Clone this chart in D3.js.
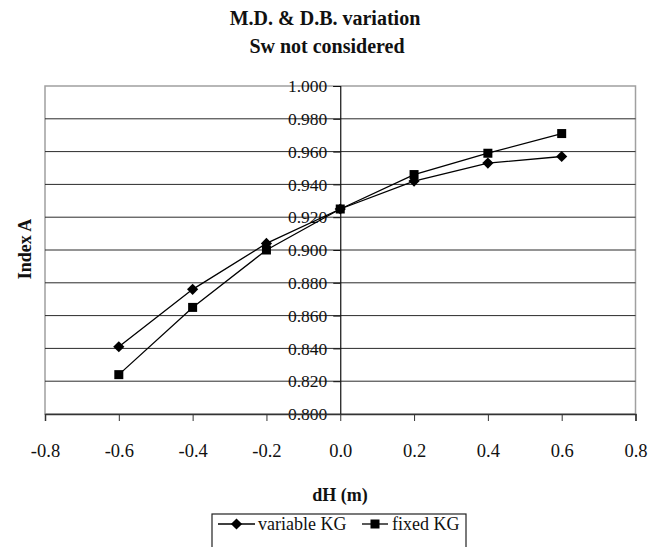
<!DOCTYPE html>
<html><head><meta charset="utf-8">
<script src="https://cdn.jsdelivr.net/npm/d3@7"></script>
<style>body{margin:0;background:#fff}svg{display:block}svg text{font-family:"Liberation Serif","Tinos","Times New Roman",Times,"DejaVu Serif",serif !important}</style>
</head><body>
<svg id="c" width="661" height="547"></svg>
<script>
const xValues = [-0.6, -0.4, -0.2, 0, 0.2, 0.4, 0.6];
const variableKG = [0.841, 0.876, 0.904, 0.925, 0.942, 0.953, 0.957];
const fixedKG = [0.824, 0.865, 0.900, 0.925, 0.946, 0.959, 0.971];
const xTicks = [-0.8, -0.6, -0.4, -0.2, 0, 0.2, 0.4, 0.6, 0.8];
const yTicks = [0.80, 0.82, 0.84, 0.86, 0.88, 0.90, 0.92, 0.94, 0.96, 0.98, 1.00];
const seriesNames = ["variable KG", "fixed KG"];

const FF = '"Liberation Serif", Tinos, "Times New Roman", Times, serif';
const svg = d3.select("#c");
const L = 45, R = 635.5, T = 86, B = 414;
const x = d3.scaleLinear().domain([-0.8, 0.8]).range([L, R]);
const y = d3.scaleLinear().domain([0.8, 1.0]).range([B, T]);
const diamondType = d3.symbolDiamond2 || d3.symbolDiamond;

// plot border
svg.append("rect").attr("x", L).attr("y", T).attr("width", R - L).attr("height", B - T)
  .attr("fill", "none").attr("stroke", "#a0a0a0").attr("stroke-width", 1.5);

// gridlines
svg.append("g").selectAll("line").data(yTicks.slice(1, -1)).join("line")
  .attr("x1", L).attr("x2", R).attr("y1", d => y(d)).attr("y2", d => y(d))
  .attr("stroke", "#2a2a2a").attr("stroke-width", 1);

// y axis at x=0
const yAxis = d3.axisLeft(y).tickValues(yTicks).tickFormat(d3.format(".3f")).tickSize(7).tickPadding(6);
const gy = svg.append("g").attr("transform", `translate(${x(0)},0)`).call(yAxis).attr("font-family", FF);
gy.select(".domain").attr("stroke", "#111").attr("stroke-width", 1.2);
gy.selectAll(".tick line").attr("stroke", "#111");
gy.selectAll(".tick text").attr("font-size", 17.5).attr("fill", "#111");

// x axis at bottom
const xAxis = d3.axisBottom(x).tickValues(xTicks).tickFormat(d => d === 0 ? "0.0" : d3.format(".1f")(d).replace("−", "-")).tickSize(7).tickPadding(23);
const gx = svg.append("g").attr("transform", `translate(0,${B})`).call(xAxis).attr("font-family", FF);
gx.select(".domain").attr("stroke", "#333").attr("stroke-width", 1.5);
gx.selectAll(".tick line").attr("stroke", "#333");
gx.selectAll(".tick text").attr("font-size", 18.5).attr("fill", "#111");

// lines
const line = d3.line().x((d, i) => x(xValues[i])).y(d => y(d));
[variableKG, fixedKG].forEach(s => {
  svg.append("path").datum(s).attr("d", line).attr("fill", "none").attr("stroke", "#000").attr("stroke-width", 1.3);
});
svg.append("g").selectAll("path").data(variableKG).join("path")
  .attr("transform", (d, i) => `translate(${x(xValues[i])},${y(d)})`)
  .attr("d", d3.symbol().type(diamondType).size(80)).attr("fill", "#000");
svg.append("g").selectAll("rect").data(fixedKG).join("rect")
  .attr("x", (d, i) => x(xValues[i]) - 4.5).attr("y", d => y(d) - 4.5)
  .attr("width", 9).attr("height", 9).attr("fill", "#000");

// titles
svg.append("text").attr("x", 325).attr("y", 25).attr("text-anchor", "middle")
  .attr("font-size", 20).attr("font-weight", "bold").attr("fill", "#111").text("M.D. & D.B. variation");
svg.append("text").attr("x", 327).attr("y", 53).attr("text-anchor", "middle")
  .attr("font-size", 20).attr("font-weight", "bold").attr("fill", "#111").text("Sw not considered");
svg.append("text").attr("x", 340).attr("y", 501).attr("text-anchor", "middle")
  .attr("font-size", 18).attr("font-weight", "bold").attr("fill", "#111").text("dH (m)");
svg.append("text").attr("transform", "translate(31,249) rotate(-90)").attr("text-anchor", "middle")
  .attr("font-size", 18).attr("font-weight", "bold").attr("fill", "#111").text("Index A");

// legend
const lg = svg.append("g");
lg.append("rect").attr("x", 212).attr("y", 514).attr("width", 254).attr("height", 40)
  .attr("fill", "#fff").attr("stroke", "#222").attr("stroke-width", 1.2);
const ly = 524;
const items = [{x1: 218, x2: 255, tx: 258, shape: "d"}, {x1: 362, x2: 388, tx: 392, shape: "s"}];
items.forEach((it, i) => {
  lg.append("line").attr("x1", it.x1).attr("x2", it.x2).attr("y1", ly).attr("y2", ly).attr("stroke", "#000").attr("stroke-width", 1.3);
  const cx = (it.x1 + it.x2) / 2;
  if (it.shape === "d") {
    lg.append("path").attr("transform", `translate(${cx},${ly})`).attr("d", d3.symbol().type(diamondType).size(80)).attr("fill", "#000");
  } else {
    lg.append("rect").attr("x", cx - 4.5).attr("y", ly - 4.5).attr("width", 9).attr("height", 9).attr("fill", "#000");
  }
  lg.append("text").attr("x", it.tx).attr("y", ly + 6).attr("font-size", 18).attr("fill", "#111").text(seriesNames[i]);
});
</script>
</body></html>
